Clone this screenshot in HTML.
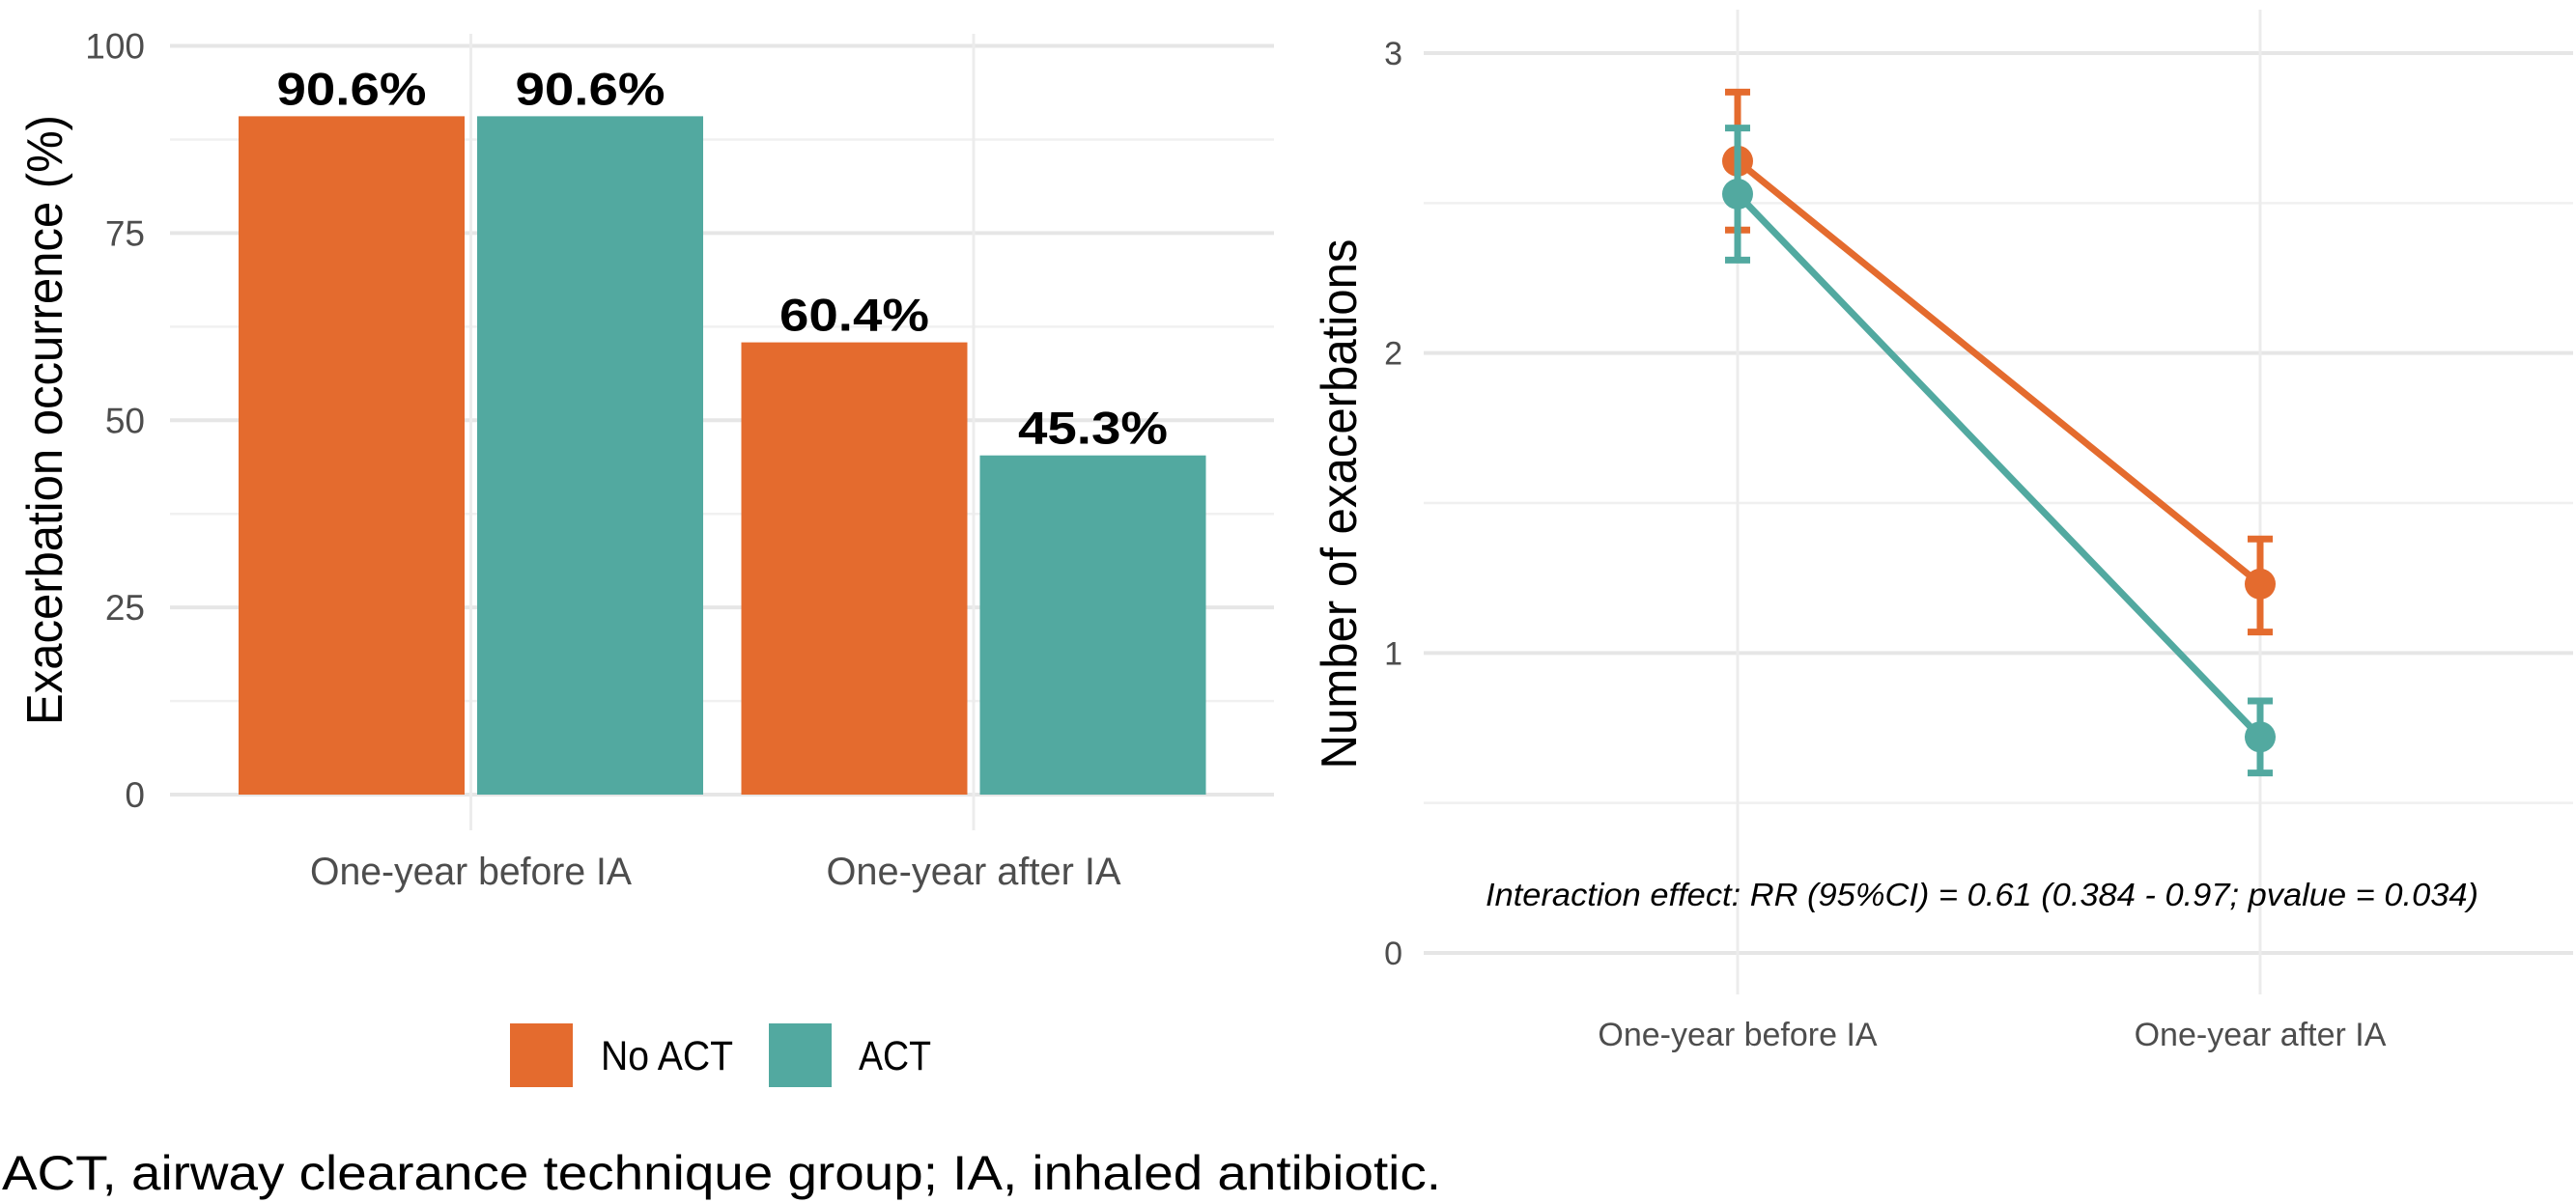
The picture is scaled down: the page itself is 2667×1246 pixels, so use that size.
<!DOCTYPE html>
<html><head><meta charset="utf-8"><style>
body{margin:0;background:#fff;}
svg{display:block;font-family:"Liberation Sans",Arial,sans-serif;}
</style></head><body>
<svg id="c" width="2667" height="1246" viewBox="0 0 2667 1246">
<g id="left"></g>
<g id="right"></g>
<text x="2" y="1232" font-size="50" textLength="1490" lengthAdjust="spacingAndGlyphs" fill="#000">ACT, airway clearance technique group; IA, inhaled antibiotic.</text>
</svg>
<script>
const categories = ["One-year before IA", "One-year after IA"];
const groups = ["No ACT", "ACT"];
const barNoACT = [90.6, 60.4];
const barACT = [90.6, 45.3];
const barTicks = [0, 25, 50, 75, 100];
const meanNoACT = [2.64, 1.23];
const lowNoACT = [2.41, 1.07];
const highNoACT = [2.87, 1.38];
const meanACT = [2.53, 0.72];
const lowACT = [2.31, 0.60];
const highACT = [2.75, 0.84];
const lineTicks = [0, 1, 2, 3];
const colors = ["#E46B2E", "#52A9A0"];
const NS = "http://www.w3.org/2000/svg";
function mk(parent, tag, attrs, text){
  const e = document.createElementNS(NS, tag);
  for (const k in attrs) e.setAttribute(k, attrs[k]);
  if (text !== undefined) e.textContent = text;
  parent.appendChild(e);
  return e;
}
// ---- left bar chart ----
const L = document.getElementById('left');
const lx0 = 176, lx1 = 1319, ly0 = 823, ly100 = 47.5;
const ly = v => ly0 - (v / 100) * (ly0 - ly100);
const lcx = i => [487.5, 1008][i];
for (let v = 0; v <= 100; v += 12.5) {
  const g = mk(L, 'line', {x1: lx0, x2: lx1, y1: ly(v), y2: ly(v), stroke: v % 25 === 0 ? '#e6e6e6' : '#f0f0f0', 'stroke-width': v % 25 === 0 ? 4 : 2.5});
  
  
}
categories.forEach((c, i) => {
  const g = mk(L, 'line', {x1: lcx(i), x2: lcx(i), y1: 35, y2: 860, stroke: '#ececec', 'stroke-width': 3});
  
  
  const t = mk(L, 'text', {x: lcx(i), y: 916, 'font-size': 40, fill: '#4d4d4d', 'text-anchor': 'middle', textLength: i === 0 ? 333 : 305, lengthAdjust: 'spacingAndGlyphs'}, c);
  
  
});
barTicks.forEach(v => {
  const t = mk(L, 'text', {x: 150, y: ly(v) + 13, 'font-size': 37, fill: '#4d4d4d', 'text-anchor': 'end'}, String(v));
  
  
});
const bw = 234, gap = 13;
[barNoACT, barACT].forEach((series, s) => {
  series.forEach((v, i) => {
    const x = s === 0 ? lcx(i) - gap / 2 - bw : lcx(i) + gap / 2;
    const r = mk(L, 'rect', {x: x, y: ly(v), width: bw, height: ly0 - ly(v), fill: colors[s]});
    
    
    const t = mk(L, 'text', {x: x + bw / 2, y: ly(v) - 12, 'font-size': 47, 'font-weight': 'bold', fill: '#000', 'text-anchor': 'middle', textLength: 155, lengthAdjust: 'spacingAndGlyphs'}, v.toFixed(1) + '%');
    
    
  });
});
const lyt = mk(L, 'text', {x: 0, y: 0, transform: 'translate(64,435) rotate(-90)', 'font-size': 52, fill: '#000', 'text-anchor': 'middle', textLength: 632, lengthAdjust: 'spacingAndGlyphs'}, 'Exacerbation occurrence (%)');


// legend
const legX = [528, 796], legT = [622, 889], legW = [137, 75];
groups.forEach((gname, s) => {
  const r = mk(L, 'rect', {x: legX[s], y: 1060, width: 65, height: 66, fill: colors[s]});
  
  
  const t = mk(L, 'text', {x: legT[s], y: 1108, 'font-size': 43, fill: '#000', textLength: legW[s], lengthAdjust: 'spacingAndGlyphs'}, gname);
  
  
});
// ---- right line chart ----
const R = document.getElementById('right');
const rx0 = 1474, rx1 = 2664, ry0 = 987, ry3 = 55;
const ry = v => ry0 - (v / 3) * (ry0 - ry3);
const rcx = i => [1799, 2340][i];
for (let v = 0; v <= 3; v += 0.5) {
  const g = mk(R, 'line', {x1: rx0, x2: rx1, y1: ry(v), y2: ry(v), stroke: v % 1 === 0 ? '#e6e6e6' : '#f0f0f0', 'stroke-width': v % 1 === 0 ? 4 : 2.5});
  
  
}
categories.forEach((c, i) => {
  const g = mk(R, 'line', {x1: rcx(i), x2: rcx(i), y1: 10, y2: 1030, stroke: '#ececec', 'stroke-width': 3});
  
  
  const t = mk(R, 'text', {x: rcx(i), y: 1083, 'font-size': 34, fill: '#4d4d4d', 'text-anchor': 'middle'}, c);
  
  
});
lineTicks.forEach(v => {
  const t = mk(R, 'text', {x: 1452, y: ry(v) + 12, 'font-size': 34, fill: '#4d4d4d', 'text-anchor': 'end'}, String(v));
  
  
});
const ryt = mk(R, 'text', {x: 0, y: 0, transform: 'translate(1404,522) rotate(-90)', 'font-size': 52, fill: '#000', 'text-anchor': 'middle', textLength: 549, lengthAdjust: 'spacingAndGlyphs'}, 'Number of exacerbations');


[[meanNoACT, lowNoACT, highNoACT], [meanACT, lowACT, highACT]].forEach((d, s) => {
  const [m, lo, hi] = d;
  const ln = mk(R, 'polyline', {points: m.map((v, i) => rcx(i) + ',' + ry(v)).join(' '), fill: 'none', stroke: colors[s], 'stroke-width': 7});
  
  
  m.forEach((v, i) => {
    const x = rcx(i);
    const eb = mk(R, 'path', {d: `M${x - 13},${ry(hi[i])}H${x + 13}M${x},${ry(hi[i])}V${ry(lo[i])}M${x - 13},${ry(lo[i])}H${x + 13}`, fill: 'none', stroke: colors[s], 'stroke-width': 7});
    
    
    const p = mk(R, 'circle', {cx: x, cy: ry(v), r: 16, fill: colors[s]});
    
    
  });
});
const ann = mk(R, 'text', {x: 2052, y: 938, 'font-size': 33, 'font-style': 'italic', fill: '#000', 'text-anchor': 'middle', textLength: 1028, lengthAdjust: 'spacingAndGlyphs'}, 'Interaction effect: RR (95%CI) = 0.61 (0.384 - 0.97; pvalue = 0.034)');


</script>
</body></html>
